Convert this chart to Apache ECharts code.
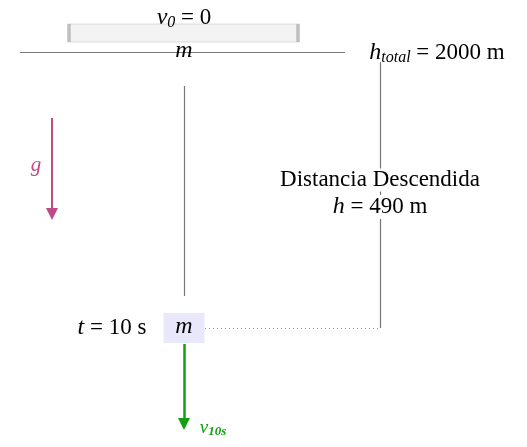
<!DOCTYPE html>
<html><head><meta charset="utf-8">
<script src="https://cdn.jsdelivr.net/npm/echarts@6/dist/echarts.min.js"></script>
<style>html,body{margin:0;background:#fff}#main{width:527px;height:447px}</style>
</head><body><div id="main"></div>
<script>
var chart = echarts.init(document.getElementById('main'));
var F = 'Liberation Serif';

// diagram quantities
var h0 = 0, hTotal = 2000, hFallen = 490, tSec = 10;

// segments: [x1,y1,x2,y2] in diagram units (canvas-like)
var plainLines = [
  [[20, 52], [345, 52]],
  [[184, 86], [184, 296]],
  [[380, 62], [380, 328]]
];
var dottedLines = [[[205, 328], [380, 328]]];
var gArrow = [[[52, 118], [52, 214]]];
var vArrow = [[[184, 344], [184, 424]]];

function lines(data, color, width, type, arrow) {
  return {
    type: 'lines', coordinateSystem: 'cartesian2d', z: 2,
    symbol: arrow ? ['none', 'triangle'] : 'none', symbolSize: 12,
    lineStyle: { color: color, width: width, type: type, opacity: 1 },
    data: data.map(function (d) { return { coords: d }; })
  };
}

var rich = {
  i: { fontFamily: F, fontStyle: 'italic', fontSize: 24, color: '#000' },
  n: { fontFamily: F, fontSize: 23, color: '#000' },
  s: { fontFamily: F, fontStyle: 'italic', fontSize: 16, color: '#000', padding: [9, 0, 0, 0] },
  g: { fontFamily: F, fontStyle: 'italic', fontSize: 21, color: '#c04a86' },
  vg: { fontFamily: F, fontStyle: 'italic', fontSize: 19, color: '#12a012' },
  vs: { fontFamily: F, fontStyle: 'italic', fontWeight: 'bold', fontSize: 13, color: '#12a012', padding: [8, 0, 0, 0] }
};

var labels = [
  { value: [184, 18], t: '{i|v}{s|0}{n| = ' + h0 + '}' },
  { value: [184, 51], t: '{i|m}' },
  { value: [437, 53], t: '{i|h}{s|total}{n| = ' + hTotal + ' m}' },
  { value: [36, 165], t: '{g|g}' },
  { value: [380, 180], t: '{n|Distancia Descendida}', bg: '#fff' },
  { value: [380, 207], t: '{i|h}{n| = ' + hFallen + ' m}', bg: '#fff' },
  { value: [112, 328], t: '{i|t}{n| = ' + tSec + ' s}' },
  { value: [184, 327], t: '{i|m}' },
  { value: [213, 428], t: '{vg|v}{vs|10s}' }
];

chart.setOption({
  animation: false,
  grid: { left: 0, right: 0, top: 0, bottom: 0 },
  xAxis: { type: 'value', min: 0, max: 527, show: false },
  yAxis: { type: 'value', min: 0, max: 447, inverse: true, show: false },
  series: [
    {
      type: 'scatter', symbol: 'rect', z: 1, silent: true,
      data: [
        { value: [183.5, 33], symbolSize: [229, 18], itemStyle: { color: '#f0f0f0', borderColor: '#b0b0b0', borderWidth: 1 } },
        { value: [184, 328], symbolSize: [41, 30], itemStyle: { color: '#e2e2f9' } }
      ]
    },
    lines(plainLines, '#777', 1.2, 'solid', false),
    lines(dottedLines, '#999', 1, [1, 3], false),
    lines(gArrow, '#c04a86', 2, 'solid', true),
    lines(vArrow, '#12a012', 2.5, 'solid', true),
    {
      type: 'scatter', symbolSize: 0, z: 5,
      itemStyle: { opacity: 1 },
      data: labels.map(function (l) {
        return { value: l.value, label: { show: true, position: 'inside', color: '#000', formatter: l.t, rich: rich,
          backgroundColor: l.bg || 'transparent', padding: l.bg ? [0, 2] : 0 } };
      })
    }
  ]
});
</script></body></html>
